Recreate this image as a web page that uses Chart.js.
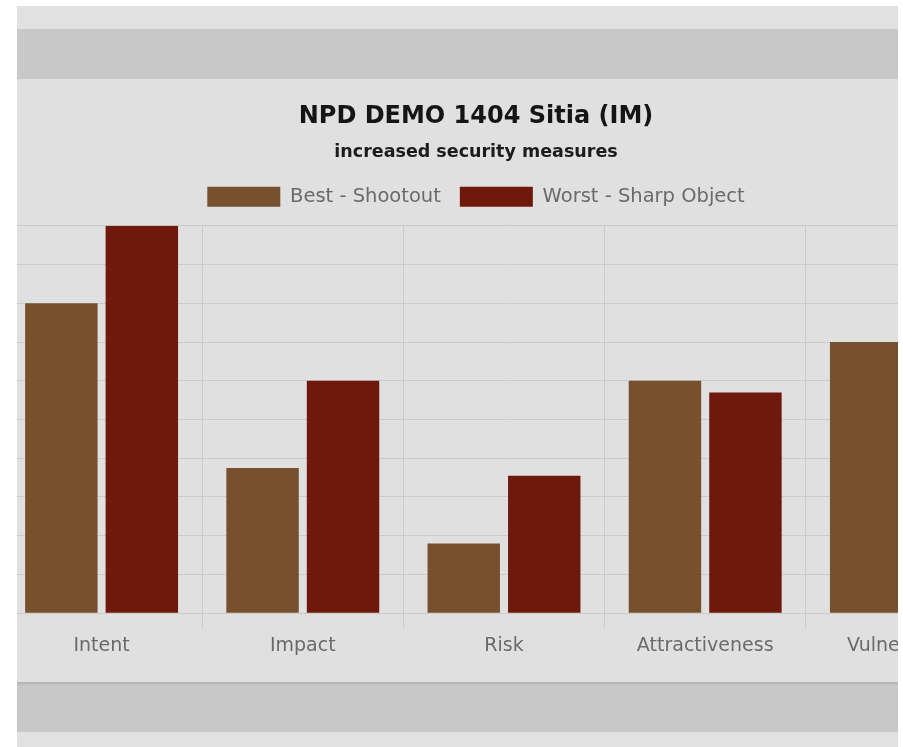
<!DOCTYPE html>
<html lang="en">
<head>
    <meta charset="UTF-8">
    <title>NPD DEMO 1404 Sitia (IM)</title>
    <script src="https://cdn.jsdelivr.net/npm/chart.js"></script>
    <style>
        html, body { margin: 0; padding: 0; background: #ffffff; }
        .page {
            position: absolute; left: 17px; top: 6px; width: 881px; height: 741px;
            background: #e1e1e1; overflow: hidden;
        }
        .band-top { position: absolute; left: 0; top: 23px; width: 100%; height: 50px; background: #c8c8c8; }
        .band-bottom { position: absolute; left: 0; top: 676px; width: 100%; height: 50px; background: #c8c8c8;
            box-shadow: inset 0 3px 2px -1px #b4b4b4; }
        .panel {
            position: absolute; left: 0; top: 73px; width: 881px; height: 601px;
            background: #e0e0e0; overflow: hidden;
        }
        .chart-box { position: absolute; left: -72px; top: 0; width: 1062px; height: 601px; }
    </style>
</head>
<body>
    <div class="page">
        <div class="band-top"></div>
        <div class="panel">
            <div class="chart-box">
                <canvas id="risk-chart"></canvas>
            </div>
        </div>
        <div class="band-bottom"></div>
    </div>
    <script>
        // values (0-10 scale)
        const categories = ['Intent', 'Impact', 'Risk', 'Attractiveness', 'Vulnerability'];
        const bestShootout = [8, 3.75, 1.8, 6, 7];
        const worstSharpObject = [10, 6, 3.55, 5.7, 8.5];
        const seriesNames = ['Best - Shootout', 'Worst - Sharp Object'];

        const gridColor = '#cbcbcb';
        const tickFont = { family: 'DejaVu Sans', size: 19 };

        // a bit more room between legend and bars
        const legendGap = {
            id: 'legendGap',
            beforeInit(chart) {
                const fitLegend = chart.legend.fit;
                chart.legend.fit = function () {
                    fitLegend.call(this);
                    this.height += 9;
                };
            }
        };

        const ctx = document.getElementById('risk-chart').getContext('2d');
        const riskChart = new Chart(ctx, {
            type: 'bar',
            data: {
                labels: categories,
                datasets: [{
                    label: seriesNames[0],
                    data: bestShootout,
                    backgroundColor: '#77502e',
                    borderWidth: 0
                }, {
                    label: seriesNames[1],
                    data: worstSharpObject,
                    backgroundColor: '#6e190c',
                    borderWidth: 0
                }]
            },
            plugins: [legendGap],
            options: {
                responsive: true,
                maintainAspectRatio: false,
                animation: false,
                layout: { padding: { top: 18, right: 0, bottom: 17, left: 0 } },
                plugins: {
                    title: {
                        display: true,
                        text: 'NPD DEMO 1404 Sitia (IM)',
                        color: '#151515',
                        font: { family: 'DejaVu Sans', size: 24, weight: 'bold' },
                        padding: { top: 5, bottom: 4 }
                    },
                    subtitle: {
                        display: true,
                        text: 'increased security measures',
                        color: '#1c1c1c',
                        font: { family: 'DejaVu Sans', size: 17.5, weight: 'bold' },
                        padding: { top: 7, bottom: 5 }
                    },
                    legend: {
                        labels: {
                            boxWidth: 73,
                            boxHeight: 20,
                            color: '#6a6a6a',
                            font: { family: 'DejaVu Sans', size: 19.5 },
                            padding: 19
                        }
                    },
                    tooltip: { enabled: false }
                },
                scales: {
                    x: {
                        grid: { color: gridColor, tickLength: 15 },
                        border: { color: gridColor },
                        ticks: { color: '#6a6a6a', font: tickFont, padding: 6 }
                    },
                    y: {
                        min: 0,
                        max: 10,
                        ticks: { stepSize: 1, color: '#6a6a6a', font: tickFont },
                        grid: { color: gridColor },
                        border: { color: gridColor },
                        // y labels sit outside the visible crop, keep axis width fixed
                        afterFit: function (axis) { axis.width = 56; }
                    }
                }
            }
        });
    </script>
</body>
</html>
